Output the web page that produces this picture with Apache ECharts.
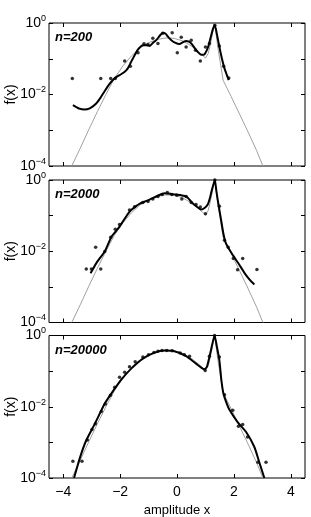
<!DOCTYPE html>
<html>
<head>
<meta charset="utf-8">
<script src="https://cdn.jsdelivr.net/npm/echarts@6/dist/echarts.min.js"></script>
<style>
html,body{margin:0;padding:0;background:#fff;}
#c{width:311px;height:517px;}
</style>
</head>
<body>
<div id="c"></div>
<script>
// ---- data: [x, log10 f(x)] ----
const panelLabels = ['n=200', 'n=2000', 'n=20000'];
const xTicks = [-4, -2, 0, 2, 4];

const trueDensity = [[-3.70,-4.0],[-3.4,-3.5],[-3.1,-2.98],[-2.8,-2.48],[-2.5,-2.0],[-2.2,-1.55],[-1.9,-1.2],[-1.6,-0.92],[-1.3,-0.70],[-1.0,-0.55],[-0.7,-0.46],[-0.4,-0.42],[-0.1,-0.43],[0.2,-0.50],[0.5,-0.64],[0.8,-0.83],[1.0,-0.98],[1.1,-0.85],[1.2,-0.5],[1.32,0.0],[1.45,-0.75],[1.62,-1.6],[1.9,-2.05],[2.2,-2.55],[2.5,-3.05],[2.8,-3.57],[3.02,-4.0]];

const estimate200 = [[-3.66,-2.30],[-3.45,-2.39],[-3.25,-2.42],[-3.05,-2.38],[-2.85,-2.26],[-2.68,-2.08],[-2.54,-1.90],[-2.37,-1.70],[-2.20,-1.55],[-2.02,-1.46],[-1.86,-1.38],[-1.73,-1.27],[-1.62,-1.10],[-1.49,-0.90],[-1.35,-0.72],[-1.20,-0.62],[-1.08,-0.62],[-0.96,-0.64],[-0.85,-0.56],[-0.73,-0.48],[-0.60,-0.35],[-0.50,-0.27],[-0.40,-0.30],[-0.32,-0.38],[-0.20,-0.48],[-0.09,-0.54],[0.09,-0.59],[0.20,-0.54],[0.32,-0.50],[0.42,-0.52],[0.50,-0.57],[0.62,-0.70],[0.73,-0.81],[0.85,-0.89],[0.96,-0.88],[1.05,-0.76],[1.12,-0.60],[1.20,-0.35],[1.27,-0.15],[1.33,-0.06],[1.40,-0.30],[1.49,-0.67],[1.58,-1.00],[1.67,-1.27],[1.75,-1.45],[1.82,-1.60]];
const hist200 = [[-3.68,-1.55],[-2.68,-1.55],[-2.33,-1.55],[-2.17,-1.55],[-1.84,-1.06],[-1.64,-1.21],[-1.37,-0.83],[-1.16,-0.58],[-1.02,-0.60],[-0.85,-0.43],[-0.67,-0.57],[-0.50,-0.29],[-0.17,-0.27],[0.01,-0.83],[0.15,-0.40],[0.32,-0.67],[0.50,-0.48],[0.65,-0.76],[0.82,-1.06],[1.00,-0.67],[1.14,-0.57],[1.33,-0.06],[1.49,-0.64],[1.64,-1.21],[1.82,-1.54]];

const estimate2000 = [[-3.04,-2.62],[-2.84,-2.34],[-2.70,-2.18],[-2.54,-2.01],[-2.40,-1.76],[-2.31,-1.60],[-2.15,-1.44],[-2.02,-1.31],[-1.85,-1.10],[-1.70,-0.92],[-1.58,-0.82],[-1.45,-0.74],[-1.32,-0.67],[-1.15,-0.61],[-0.96,-0.55],[-0.70,-0.45],[-0.44,-0.37],[-0.20,-0.39],[-0.03,-0.41],[0.15,-0.43],[0.32,-0.46],[0.45,-0.56],[0.55,-0.65],[0.70,-0.75],[0.85,-0.83],[0.98,-0.78],[1.08,-0.69],[1.16,-0.50],[1.23,-0.27],[1.33,0.0],[1.38,-0.28],[1.43,-0.55],[1.49,-0.84],[1.55,-1.12],[1.63,-1.50],[1.72,-1.78],[1.90,-2.03],[2.15,-2.33],[2.40,-2.64],[2.60,-2.84],[2.72,-2.93]];
const hist2000 = [[-3.19,-2.50],[-3.01,-2.50],[-2.86,-1.89],[-2.68,-2.50],[-2.54,-2.01],[-2.33,-1.61],[-2.17,-1.38],[-2.02,-1.25],[-1.67,-0.84],[-1.49,-0.75],[-1.20,-0.63],[-1.02,-0.60],[-0.85,-0.53],[-0.67,-0.46],[-0.52,-0.41],[-0.34,-0.35],[-0.18,-0.41],[-0.01,-0.43],[0.17,-0.53],[0.32,-0.46],[0.50,-0.63],[0.67,-0.69],[0.82,-0.76],[1.00,-0.95],[1.33,0.0],[1.49,-0.74],[1.67,-1.69],[1.80,-1.89],[1.98,-2.20],[2.13,-2.52],[2.31,-2.20],[2.81,-2.51]];

const estimate20000 = [[-3.62,-4.0],[-3.40,-3.40],[-3.19,-2.94],[-2.89,-2.48],[-2.54,-1.91],[-2.31,-1.63],[-1.96,-1.24],[-1.61,-0.93],[-1.20,-0.65],[-0.79,-0.48],[-0.44,-0.42],[-0.15,-0.43],[0.32,-0.58],[0.67,-0.79],[0.96,-0.95],[1.05,-0.88],[1.14,-0.60],[1.23,-0.28],[1.32,0.0],[1.40,-0.30],[1.49,-0.70],[1.56,-1.25],[1.63,-1.62],[1.72,-1.85],[1.84,-2.08],[2.13,-2.43],[2.43,-2.71],[2.72,-3.13],[2.89,-3.55],[3.07,-4.0]];
const hist20000 = [[-3.66,-3.53],[-3.34,-3.53],[-3.15,-2.93],[-2.99,-2.64],[-2.87,-2.48],[-2.66,-2.13],[-2.52,-1.92],[-2.34,-1.68],[-2.19,-1.45],[-2.02,-1.17],[-1.84,-1.03],[-1.67,-0.88],[-1.47,-0.74],[-1.20,-0.60],[-1.00,-0.54],[-0.81,-0.48],[-0.67,-0.44],[-0.53,-0.42],[-0.36,-0.42],[-0.17,-0.43],[0.11,-0.49],[0.26,-0.54],[0.44,-0.58],[0.99,-0.98],[1.14,-0.58],[1.32,0.0],[1.49,-0.60],[1.67,-1.66],[1.96,-2.10],[2.16,-2.55],[2.31,-2.50],[2.48,-2.85],[2.84,-3.56],[3.13,-3.56]];

const estimates = [estimate200, estimate2000, estimate20000];
const histograms = [hist200, hist2000, hist20000];

// ---- chart ----
const FONT = '"Liberation Sans", Arial, Helvetica, sans-serif';
const toF = d => d.map(p => [p[0], Math.pow(10, p[1])]);
const minus = s => String(s).replace('-', '\u2212');

const gridTops = [23, 180, 335.5];
const gridHeights = [143, 142.5, 142.5];

const grids = [], xAxes = [], yAxes = [], series = [], graphics = [];
for (let i = 0; i < 3; i++) {
  grids.push({left: 49, right: 6, top: gridTops[i], height: gridHeights[i],
    containLabel: false, outerBoundsMode: 'none',
    show: true, borderColor: '#000', borderWidth: 1, backgroundColor: 'transparent'});
  ['bottom', 'top'].forEach((pos, k) => {
    xAxes.push({
      type: 'value', gridIndex: i, position: pos, min: -4.5, max: 4.5,
      axisLine: {show: false, onZero: false},
      axisTick: {show: true, inside: true, length: 4, customValues: xTicks, lineStyle: {color: '#000'}},
      axisLabel: {show: (i === 2 && k === 0), customValues: xTicks, formatter: v => minus(v),
        color: '#000', fontSize: 14, fontFamily: FONT, margin: 7},
      splitLine: {show: false},
      name: (i === 2 && k === 0) ? 'amplitude x' : '',
      nameLocation: 'middle', nameGap: 26, nameMoveOverlap: false,
      nameTextStyle: {color: '#000', fontSize: 13, fontFamily: FONT}
    });
  });
  ['left', 'right'].forEach((pos, k) => {
    yAxes.push({
      type: 'log', logBase: 10, gridIndex: i, position: pos, min: 1e-4, max: 1,
      axisLine: {show: false, onZero: false},
      axisTick: {show: true, inside: true, length: 4, lineStyle: {color: '#000'}},
      axisLabel: {show: k === 0, color: '#000', fontFamily: FONT, margin: 3,
        formatter: v => {
          const e = Math.round(Math.log10(v));
          if (e % 2 !== 0) return '';
          return '{b|10}{s|' + minus(e) + '}';
        },
        rich: {
          b: {fontSize: 14, lineHeight: 18, fontFamily: FONT, color: '#000'},
          s: {fontSize: 9, lineHeight: 10, verticalAlign: 'top', fontFamily: FONT, color: '#000'}
        }
      },
      splitLine: {show: false},
      minorTick: {show: false},
      name: k === 0 ? 'f(x)' : '',
      nameLocation: 'middle', nameGap: 31, nameRotate: 90, nameMoveOverlap: false,
      nameTextStyle: {color: '#000', fontSize: 14, fontFamily: FONT}
    });
  });
  series.push({
    type: 'line', xAxisIndex: 2 * i, yAxisIndex: 2 * i, data: toF(trueDensity),
    showSymbol: false, lineStyle: {color: '#a0a0a0', width: 1}, z: 2, silent: true
  });
  series.push({
    type: 'line', xAxisIndex: 2 * i, yAxisIndex: 2 * i, data: toF(estimates[i]),
    showSymbol: false, smooth: 0.2, lineStyle: {color: '#000', width: 2}, z: 3, silent: true
  });
  series.push({
    type: 'scatter', xAxisIndex: 2 * i, yAxisIndex: 2 * i, data: toF(histograms[i]),
    symbolSize: 3.5, itemStyle: {color: '#000'}, z: 4, silent: true
  });
  graphics.push({
    type: 'text', left: 55, top: gridTops[i] + 8,
    style: {text: panelLabels[i], fill: '#000', font: 'italic bold 13px ' + FONT}
  });
}

const chart = echarts.init(document.getElementById('c'), null, {renderer: 'canvas'});
chart.setOption({
  animation: false,
  backgroundColor: '#fff',
  grid: grids, xAxis: xAxes, yAxis: yAxes, series: series, graphic: graphics
});
</script>
</body>
</html>
